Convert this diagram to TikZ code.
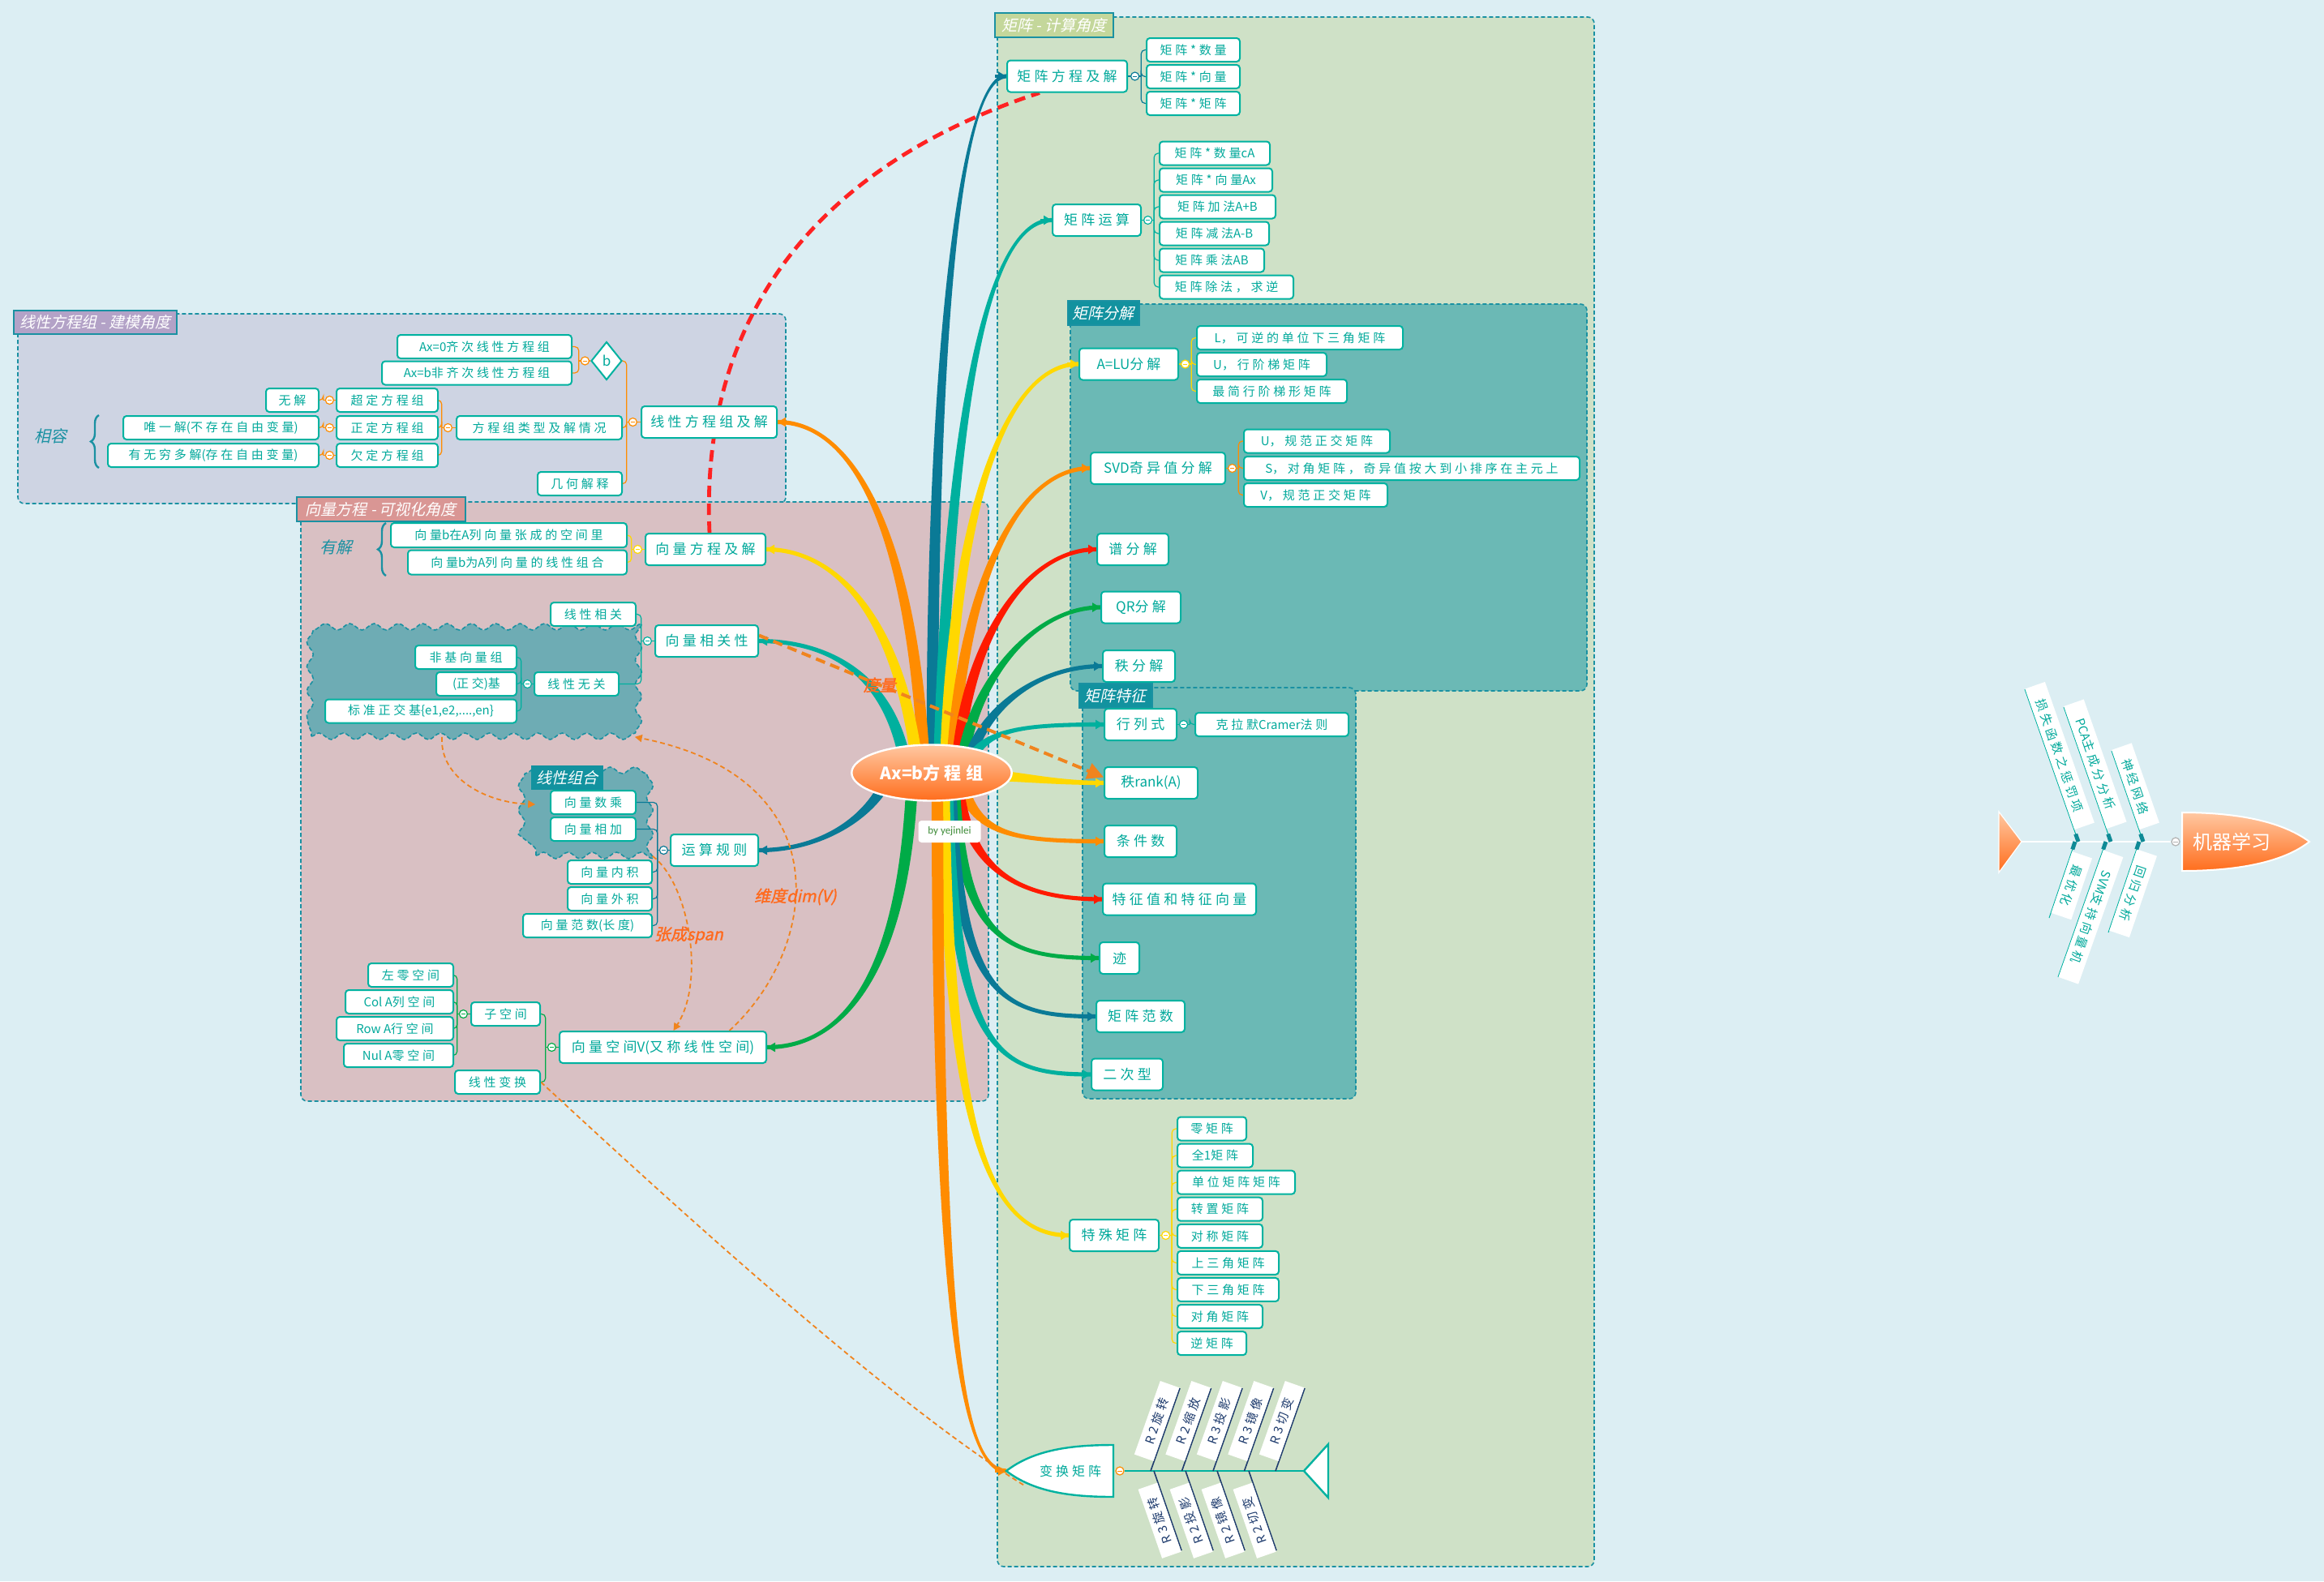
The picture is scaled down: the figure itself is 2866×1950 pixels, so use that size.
\documentclass[tikz,border=0pt]{standalone}
\usepackage{fontspec}
\setmainfont{Noto Sans CJK SC}
\newfontfamily\cjk[LetterSpace=25]{Noto Sans CJK SC}
\newfontfamily\cjkplain{Noto Sans CJK SC}
\newfontfamily\cjkit[FakeSlant=0.22]{Noto Sans CJK SC}
\newfontfamily\cjkitb[FakeSlant=0.22,FakeBold=1.5]{Noto Sans CJK SC}
\newfontfamily\cali{Carlito}
\usetikzlibrary{positioning,calc,shapes.geometric,arrows.meta,decorations.pathmorphing,decorations.pathreplacing}
\pgfdeclarelayer{bg}
\pgfdeclarelayer{links}
\pgfsetlayers{bg,links,main}

\definecolor{bgc}{HTML}{DCEEF3}
\definecolor{greenreg}{HTML}{CFE1C7}
\definecolor{tealreg}{HTML}{6BB9B5}
\definecolor{lavreg}{HTML}{CED4E3}
\definecolor{rosereg}{HTML}{D9C0C3}
\definecolor{wavereg}{HTML}{6EACB4}
\definecolor{regline}{HTML}{1A91A2}
\definecolor{boxc}{HTML}{00B2A0}
\definecolor{txtc}{HTML}{00A99B}
\definecolor{bdblue}{HTML}{0A7A96}
\definecolor{bteal}{HTML}{00B09E}
\definecolor{byellow}{HTML}{FFD800}
\definecolor{borange}{HTML}{FF8C00}
\definecolor{bred}{HTML}{FF1A00}
\definecolor{bgreen}{HTML}{00AB47}
\definecolor{rorange}{HTML}{F0841E}
\definecolor{redash}{HTML}{FF2222}
\definecolor{lblorange}{HTML}{FF6A1E}
\definecolor{labgreen}{HTML}{C4D79B}
\definecolor{labteal}{HTML}{12929F}
\definecolor{labpurple}{HTML}{B3A2C7}
\definecolor{labrose}{HTML}{D99694}
\definecolor{navy}{HTML}{1F3C6E}
\definecolor{ellTop}{HTML}{FFC8A2}
\definecolor{ellBot}{HTML}{FF6D1C}
\definecolor{byc}{HTML}{3D8B37}
\definecolor{mlmark}{HTML}{0F8A96}

\newcommand{\lat}[1]{{\cjkplain #1}}

% tapered branch: colour, start, control 1, control 2, end
\newcommand{\branch}[5]{%
  \coordinate (bA) at #2;
  \coordinate (bC) at #3;
  \coordinate (bD) at #4;
  \coordinate (bB) at #5;
  \coordinate (bA1) at ($(bA)!3.6pt!90:(bC)$);
  \coordinate (bA2) at ($(bA)!3.6pt!-90:(bC)$);
  \coordinate (bB1) at ($(bB)!1.3pt!-90:(bD)$);
  \coordinate (bB2) at ($(bB)!1.3pt!90:(bD)$);
  \fill[#1] (bA1) .. controls ($(bC)+(bA1)-(bA)$) and ($(bD)+(bB1)-(bB)$) .. (bB1)
    -- (bB2) .. controls ($(bD)+(bB2)-(bB)$) and ($(bC)+(bA2)-(bA)$) .. (bA2) -- cycle;
  \draw[#1, line width=1.6pt, -{Triangle[length=5pt,width=5.5pt]}] ($(bB)!7pt!(bD)$) -- (bB);
}
% children on the right / on the left of a topic
\newcommand{\kidsR}[4]{%
  \draw[brk=#1] (#2.east) -- (#3.west);
  \coordinate (kk) at ($(#3.east)+(1pt,0)$);
  \draw[brk=#1] (#3.east) -- (kk);
  \foreach \k in {#4} \draw[brk=#1] (kk) |- (\k.west);
}
\newcommand{\kidsL}[4]{%
  \draw[brk=#1] (#2.west) -- (#3.east);
  \coordinate (kk) at ($(#3.west)+(-1pt,0)$);
  \draw[brk=#1] (#3.west) -- (kk);
  \foreach \k in {#4} \draw[brk=#1] (kk) |- (\k.east);
}

\tikzset{
  leaf/.style={draw=boxc, fill=white, line width=1pt, rounded corners=2pt, text=txtc,
    minimum height=14.5pt, inner xsep=0pt, inner ysep=1pt, font=\cjk\fontsize{7.5}{8}\selectfont},
  topic/.style={leaf, minimum height=19.5pt, font=\cjk\fontsize{8.5}{9}\selectfont},
  choice/.style={diamond, draw=boxc, fill=white, line width=1pt, minimum width=19pt,
    minimum height=23.5pt, inner sep=0pt, text=txtc, font=\cjkplain\fontsize{8.5}{9}\selectfont},
  fold/.style={circle, draw=#1, fill=white, line width=0.6pt, minimum size=5pt, inner sep=0pt,
    path picture={\draw[#1, line width=0.5pt] ([xshift=-1.3pt]path picture bounding box.center)
      -- ([xshift=1.3pt]path picture bounding box.center);}},
  brk/.style={draw=#1, line width=0.6pt, rounded corners=2.5pt},
  region/.style={draw=regline, line width=0.8pt, dash pattern=on 2.5pt off 1.5pt, rounded corners=4pt},
  reglabel/.style={draw=regline, line width=0.9pt, text=white, anchor=north west,
    minimum height=15pt, inner sep=1pt, font=\cjkit\fontsize{9.5}{10}\selectfont},
  wavebox/.style={draw=regline, fill=wavereg, line width=0.8pt, dash pattern=on 2.5pt off 1.5pt,
    decorate, decoration={snake, amplitude=2pt, segment length=15pt}},
  rootnode/.style={ellipse, draw=white, line width=1.2pt, top color=ellTop, bottom color=ellBot,
    minimum width=92pt, minimum height=34.5pt, text=white, font=\cjk\bfseries\fontsize{10.5}{11}\selectfont},
  byline/.style={fill=white, rounded corners=2pt, minimum width=38.5pt, minimum height=13.5pt,
    text=byc, font=\cali\fontsize{6.5}{7}\selectfont, inner sep=0pt},
  reldash/.style={draw=redash, line width=2.4pt, dash pattern=on 7pt off 4pt},
  measure/.style={draw=rorange, line width=2pt, dash pattern=on 6pt off 3.5pt, -{Triangle[length=10pt,width=10pt]}},
  relthin/.style={draw=rorange, line width=0.9pt, dash pattern=on 3pt off 2pt},
  relarrow/.style={relthin, -{Triangle[length=4.5pt,width=4.5pt]}},
  rellabel/.style={text=lblorange, font=\cjkitb\fontsize{10}{11}\selectfont, inner sep=0pt},
  bracetext/.style={text=regline, font=\cjkit\fontsize{10}{11}\selectfont},
  tbone/.style={draw=navy, line width=0.8pt},
  tlabel/.style={fill=white, text=navy, minimum height=12.5pt, minimum width=48pt, inner sep=0.5pt,
    font=\cjk\fontsize{7.5}{8}\selectfont},
  mbone/.style={draw=boxc, line width=0.5pt},
  mlabel/.style={fill=white, text=txtc, minimum height=13pt, inner sep=0.5pt,
    font=\cjk\fontsize{7.5}{8}\selectfont},
}

\begin{document}
\begin{tikzpicture}[x=0.5pt, y=-0.5pt]
\useasboundingbox (0,0) rectangle (2866,1950);

\begin{pgfonlayer}{bg}
  \fill[bgc] (0,0) rectangle (2866,1950);
  % regions
  \draw[region, fill=greenreg] (1230,21) rectangle (1966,1932);
  \draw[region, fill=tealreg] (1320,375) rectangle (1957,852);
  \draw[region, fill=tealreg] (1335,848) rectangle (1672,1355);
  \draw[region, fill=lavreg] (22,387) rectangle (969,621);
  \draw[region, fill=rosereg] (371,619) rectangle (1219,1358);
  \node[wavebox, minimum width=199pt, minimum height=65.5pt] (indepG) at (583,842.5) {};
  \node[wavebox, minimum width=71.5pt, minimum height=51pt] (lcG) at (732.5,1004) {};
  % region labels
  \node[reglabel, fill=labgreen, minimum width=73pt] (gLab) at (1226,15) {矩阵 - 计算角度};
  \node[reglabel, fill=labteal, minimum width=44pt] (dLab) at (1316,370) {矩阵分解};
  \node[reglabel, fill=labteal, minimum width=45pt] (fLab) at (1330,842) {矩阵特征};
  \node[reglabel, fill=labpurple, minimum width=100.5pt, minimum height=14.5pt] (lLab) at (16,382) {线性方程组 - 建模角度};
  \node[reglabel, fill=labrose, minimum width=104pt] (rLab) at (365,612) {向量方程 - 可视化角度};
  \node[reglabel, fill=labteal, draw=none, minimum width=44.5pt] (cLab) at (654,943) {线性组合};
  % braces
  \draw[decorate, decoration={brace, amplitude=5pt}, draw=regline, line width=1.2pt] (122,577) -- (122,512);
  \draw[decorate, decoration={brace, amplitude=5pt}, draw=regline, line width=1.2pt] (476,710) -- (476,645);
  \node[bracetext] (xr) at (62,538) {相容};
  \node[bracetext] (yj) at (414,675) {有解};
\end{pgfonlayer}

% ---- matrix: calculation
\node[topic, minimum width=74pt] (mEq) at (1316,94) {矩阵方程及解};
\node[fold=bdblue, right=1.5pt of mEq] (mEqF) {};
\foreach \txt [count=\i] in {矩阵*数量, 矩阵*向量, 矩阵*矩阵}
  \node[leaf, anchor=west, minimum width=57.5pt] (mEq\i) at (1413,28.5+33*\i) {\txt};
\node[topic, minimum width=54.5pt] (mOp) at (1352.5,271.5) {矩阵运算};
\node[fold=bteal, right=1pt of mOp] (mOpF) {};
\foreach \txt/\bw [count=\i] in {矩阵*数量\lat{cA}/68, 矩阵*向量\lat{Ax}/69.5, 矩阵加法\lat{A+B}/71.5,
    矩阵减法\lat{A-B}/67.5, 矩阵乘法\lat{AB}/64.5, 矩阵除法，求逆/82.5}
  \node[leaf, anchor=west, minimum width=\bw pt] (mOp\i) at (1429,156+33*\i) {\txt};

% ---- decomposition
\node[topic, minimum width=61pt] (LU) at (1392,449) {\lat{A=LU}分解};
\node[fold=byellow, right=1pt of LU] (LUF) {};
\node[leaf, anchor=west, minimum width=127pt] (LU1) at (1475,416.5) {\lat{L}，可逆的单位下三角矩阵};
\node[leaf, anchor=west, minimum width=80pt] (LU2) at (1475,449.5) {\lat{U}，行阶梯矩阵};
\node[leaf, anchor=west, minimum width=92.5pt] (LU3) at (1475,482.5) {最简行阶梯形矩阵};
\node[topic, minimum width=83pt] (svd) at (1428,577.5) {\lat{SVD}奇异值分解};
\node[fold=borange, right=1pt of svd] (svdF) {};
\node[leaf, anchor=west, minimum width=90pt] (svd1) at (1533,544) {\lat{U}，规范正交矩阵};
\node[leaf, anchor=west, minimum width=207pt] (svd2) at (1533,577.5) {\lat{S}，对角矩阵，奇异值按大到小排序在主元上};
\node[leaf, anchor=west, minimum width=88.5pt] (svd3) at (1533,610.5) {\lat{V}，规范正交矩阵};
\node[topic, minimum width=44pt] (spd) at (1397,677.5) {谱分解};
\node[topic, minimum width=49pt] (qrd) at (1407,749) {\lat{QR}分解};
\node[topic, minimum width=44.5pt] (rkd) at (1404.5,821.5) {秩分解};

% ---- features
\node[topic, minimum width=44.5pt] (det) at (1406.5,893.5) {行列式};
\node[fold=bteal, right=1pt of det] (detF) {};
\node[leaf, anchor=west, minimum width=94.5pt] (cram) at (1473,893.5) {克拉默\lat{Cramer}法则};
\node[topic, minimum width=57.5pt] (rank) at (1419.5,965.5) {秩\lat{rank(A)}};
\node[topic, minimum width=44.5pt] (cond) at (1406.5,1037.5) {条件数};
\node[topic, minimum width=94.5pt] (eig) at (1454.5,1109) {特征值和特征向量};
\node[topic, minimum width=24.5pt] (trc) at (1380.5,1181.5) {迹};
\node[topic, minimum width=54.5pt] (nrm) at (1406.5,1253.5) {矩阵范数};
\node[topic, minimum width=44pt] (quad) at (1390,1325) {二次型};

% ---- special matrices
\node[topic, minimum width=55pt] (spm) at (1374,1523.5) {特殊矩阵};
\node[fold=byellow, right=1pt of spm] (spmF) {};
\foreach \txt/\bw [count=\i] in {零矩阵/42.5, 全\lat{1}矩阵/46.5, 单位矩阵矩阵/72.5, 转置矩阵/52.5,
    对称矩阵/52.5, 上三角矩阵/62.5, 下三角矩阵/62.5, 对角矩阵/52.5, 逆矩阵/42.5}
  \node[leaf, anchor=west, minimum width=\bw pt] (spm\i) at (1451,1358.9+33.08*\i) {\txt};

% ---- transform matrix (fish)
\coordinate (tfTip) at (1241,1814);
\coordinate (tfBot) at (1265,1833);
\coordinate (tfTail) at (1608,1814);
\draw[boxc, line width=1.2pt, fill=white] (tfTip) .. controls (1275,1788) and (1320,1782) .. (1373,1782)
  -- (1373,1846) .. controls (1320,1846) and (1275,1840) .. (tfTip) -- cycle;
\node[text=txtc, inner sep=0pt, font=\cjk\fontsize{8}{8}\selectfont] (tfm) at (1320,1814) {变换矩阵};
\node[fold=borange] (tfF) at (1381,1814) {};
\draw[boxc, line width=1.2pt] (tfF.east) -- (tfTail);
\draw[boxc, line width=1.2pt, fill=white] (tfTail) -- (1638,1781) -- (1638,1847) -- cycle;
\foreach \txt [count=\i from 0] in {R2旋转, R2缩放, R3投影, R3镜像, R3切变}
  \draw[tbone] (1419+38.5*\i,1814) -- ++(36,-102)
    node[pos=0.56, sloped, allow upside down, above=0pt, tlabel] {\txt};
\foreach \txt [count=\i from 0] in {R3旋转, R2投影, R2镜像, R2切变}
  \draw[tbone] (1457+39*\i,1912) -- (1423+39*\i,1814)
    node[pos=0.42, sloped, allow upside down, above=0pt, tlabel, minimum width=45pt] {\txt};

% ---- root
\node[rootnode] (root) at (1149,953) {\lat{Ax=b}方程组};
\node[byline] (by) at (1171,1025.5) {by yejinlei};

% ---- linear systems
\node[topic, minimum width=83.5pt] (lsys) at (874.5,520.5) {线性方程组及解};
\node[fold=borange, left=2pt of lsys] (lsysF) {};
\node[choice] (bdia) at (748,445) {b};
\node[fold=borange, left=0.5pt of bdia] (bdiaF) {};
\node[leaf, anchor=east, minimum width=107.5pt] (hom) at (706,427.5) {\lat{Ax=0}齐次线性方程组};
\node[leaf, anchor=east, minimum width=117pt] (nhom) at (706,460) {\lat{Ax=b}非齐次线性方程组};
\node[leaf, anchor=east, minimum width=102pt] (typ) at (768,527.5) {方程组类型及解情况};
\node[fold=borange, left=2pt of typ] (typF) {};
\node[leaf, anchor=east, minimum width=52pt] (geo) at (768,596.5) {几何解释};
\foreach \nm/\txt/\y in {over/超定方程组/493.5, exact/正定方程组/527.5, under/欠定方程组/561.5}{
  \node[leaf, anchor=east, minimum width=62.5pt] (\nm) at (541,\y) {\txt};
  \node[fold=borange, left=1pt of \nm] (\nm-f) {};
}
\node[leaf, anchor=east, minimum width=32.5pt] (noSol) at (394,493.5) {无解};
\node[leaf, anchor=east, minimum width=120.5pt] (uniq) at (394,527.5) {唯一解\lat{(}不存在自由变量\lat{)}};
\node[leaf, anchor=east, minimum width=130pt] (infin) at (394,561.5) {有无穷多解\lat{(}存在自由变量\lat{)}};

% ---- vector equations
\node[topic, minimum width=74pt] (vEq) at (870,677.5) {向量方程及解};
\node[fold=byellow, left=1.5pt of vEq] (vEqF) {};
\node[leaf, anchor=east, minimum width=145.5pt, minimum height=15pt] (vIn) at (774,660) {向量\lat{b}在\lat{A}列向量张成的空间里};
\node[leaf, anchor=east, minimum width=135pt, minimum height=15pt] (vCo) at (774,693.5) {向量\lat{b}为\lat{A}列向量的线性组合};
\node[topic, minimum width=63.5pt] (vRel) at (871.5,790.5) {向量相关性};
\node[fold=bteal, left=1.5pt of vRel] (vRelF) {};
\node[leaf, anchor=east, minimum width=52.5pt] (vDep) at (785,757.5) {线性相关};
\node[leaf, anchor=east, minimum width=52pt] (vInd) at (764,843.5) {线性无关};
\node[fold=bteal, left=1pt of vInd] (vIndF) {};
\node[leaf, anchor=east, minimum width=62.5pt] (nb) at (638,810.5) {非基向量组};
\node[leaf, anchor=east, minimum width=49.5pt] (ob) at (638,843.5) {\lat{(}正交\lat{)}基};
\node[leaf, anchor=east, minimum width=118pt] (onb) at (638,877) {标准正交基\lat{\{e1,e2,....,en\}}};
\node[topic, minimum width=54pt] (vOp) at (881,1048.5) {运算规则};
\node[fold=bdblue, left=1pt of vOp] (vOpF) {};
\foreach \nm/\txt/\bw/\x/\y in {vMul/向量数乘/52.5/785/989.5, vAdd/向量相加/52.5/785/1022.5,
    vDot/向量内积/52/805/1075.5, vCrs/向量外积/52/805/1108.5, vNrm/向量范数\lat{(}长度\lat{)}/79.5/805/1141.5}
  \node[leaf, anchor=east, minimum width=\bw pt] (\nm) at (\x,\y) {\txt};
\node[topic, minimum width=127.5pt] (vSp) at (817.5,1291.5) {向量空间\lat{V(}又称线性空间\lat{)}};
\node[fold=bgreen, left=1.5pt of vSp] (vSpF) {};
\node[leaf, anchor=east, minimum width=42.5pt] (sub) at (667,1250.5) {子空间};
\node[fold=bgreen, left=1.5pt of sub] (subF) {};
\node[leaf, anchor=east, minimum width=52.5pt] (lin) at (667,1334.5) {线性变换};
\foreach \nm/\txt/\bw/\y in {lnul/左零空间/52.5/1202.5, col/\lat{Col A}列空间/66.5/1235.5,
    row/\lat{Row A}行空间/72/1268.5, nul/\lat{Nul A}零空间/67.5/1301.5}
  \node[leaf, anchor=east, minimum width=\bw pt] (\nm) at (560,\y) {\txt};

% ---- machine learning (fish)
\coordinate (mlTail) at (2493,1038);
\draw[white, line width=0.6pt, top color=ellTop, bottom color=ellBot] (2465,1001) -- (mlTail) -- (2465,1076) -- cycle;
\draw[white, line width=1pt, top color=ellTop, bottom color=ellBot] (2691,1002) .. controls (2790,1002) and (2830,1025) .. (2848,1038)
  .. controls (2830,1052) and (2790,1074) .. (2691,1074) -- cycle;
\node[text=white, inner sep=0pt, font=\cjkplain\fontsize{12}{13}\selectfont] (ml) at (2752,1038) {机器学习};
\node[fold=gray!60] (mlF) at (2683,1038) {};
\draw[white, line width=0.6pt] (mlF.west) -- (mlTail);
\foreach \tx/\ty/\sx/\txt/\bw/\p in {2497/850/2563/损失函数之惩罚项/92/0.46, 2545/872/2603/\lat{PCA}主成分分析/80/0.45,
    2604/926/2643/神经网络/52/0.43}{
  \draw[mbone] (\tx,\ty) -- (\sx,1038)
    node[pos=\p, sloped, allow upside down, above=0pt, mlabel, minimum width=\bw pt] {\txt};
  \draw[mlmark, line width=2.5pt] (\sx,1038) -- ($(\sx,1038)!5pt!(\tx,\ty)$);
}
\foreach \sx/\bx/\by/\txt/\bw in {2559/2527/1132/最优化/40, 2597/2538/1205/\lat{SVM}支持向量机/83, 2638/2600/1150/回归分析/53}{
  \draw[mbone] (\sx,1038) -- (\bx,\by)
    node[pos=0.53, sloped, allow upside down, above=0pt, mlabel, minimum width=\bw pt] {\txt};
  \draw[mlmark, line width=2.5pt] (\sx,1038) -- ($(\sx,1038)!5pt!(\bx,\by)$);
}

\begin{pgfonlayer}{links}
  % branches from the root
  \branch{bdblue}{(1150,950)}{(1148,450)}{(1182,94)}{(mEq.west)}
  \branch{bteal}{(1158,950)}{(1170,520)}{(1215,271.5)}{(mOp.west)}
  \branch{byellow}{(1166,950)}{(1175,630)}{(1240,449)}{(LU.west)}
  \branch{borange}{(1174,950)}{(1185,720)}{(1255,577.5)}{(svd.west)}
  \branch{bred}{(1180,950)}{(1190,790)}{(1265,677.5)}{(spd.west)}
  \branch{bgreen}{(1186,950)}{(1194,850)}{(1270,749)}{(qrd.west)}
  \branch{bdblue}{(1192,950)}{(1205,880)}{(1275,821.5)}{(rkd.west)}
  \branch{bteal}{(1190,960)}{(1200,900)}{(1250,893.5)}{(det.west)}
  \branch{byellow}{(1190,955)}{(1250,955)}{(1290,965.5)}{(rank.west)}
  \branch{borange}{(1185,960)}{(1200,1030)}{(1250,1037.5)}{(cond.west)}
  \branch{bred}{(1180,960)}{(1190,1060)}{(1240,1109)}{(eig.west)}
  \branch{bgreen}{(1176,960)}{(1185,1160)}{(1240,1181.5)}{(trc.west)}
  \branch{bdblue}{(1172,960)}{(1180,1230)}{(1235,1253.5)}{(nrm.west)}
  \branch{bteal}{(1168,960)}{(1175,1300)}{(1230,1325)}{(quad.west)}
  \branch{byellow}{(1164,960)}{(1168,1380)}{(1215,1523.5)}{(spm.west)}
  \branch{borange}{(1156,960)}{(1156,1620)}{(1185,1814)}{(tfTip)}
  \branch{borange}{(1140,950)}{(1125,650)}{(1050,520.5)}{(lsys.east)}
  \branch{byellow}{(1132,950)}{(1110,760)}{(1030,677.5)}{(vEq.east)}
  \branch{bteal}{(1118,950)}{(1100,830)}{(1020,790.5)}{(vRel.east)}
  \branch{bdblue}{(1100,945)}{(1085,1000)}{(1020,1048.5)}{(vOp.east)}
  \branch{bgreen}{(1125,960)}{(1115,1200)}{(1040,1291.5)}{(vSp.east)}

  % brackets to children
  \kidsR{bdblue}{mEq}{mEqF}{mEq1,mEq2,mEq3}
  \kidsR{bteal}{mOp}{mOpF}{mOp1,mOp2,mOp3,mOp4,mOp5,mOp6}
  \kidsR{byellow}{LU}{LUF}{LU1,LU2,LU3}
  \kidsR{borange}{svd}{svdF}{svd1,svd2,svd3}
  \kidsR{bteal}{det}{detF}{cram}
  \kidsR{byellow}{spm}{spmF}{spm1,spm2,spm3,spm4,spm5,spm6,spm7,spm8,spm9}
  \kidsL{borange}{lsys}{lsysF}{bdia,typ,geo}
  \kidsL{borange}{bdia}{bdiaF}{hom,nhom}
  \kidsL{borange}{typ}{typF}{over,exact,under}
  \kidsL{borange}{over}{over-f}{noSol}
  \kidsL{borange}{exact}{exact-f}{uniq}
  \kidsL{borange}{under}{under-f}{infin}
  \kidsL{byellow}{vEq}{vEqF}{vIn,vCo}
  \kidsL{bteal}{vRel}{vRelF}{vDep,vInd}
  \kidsL{bteal}{vInd}{vIndF}{nb,ob,onb}
  \kidsL{bdblue}{vOp}{vOpF}{vMul,vAdd,vDot,vCrs,vNrm}
  \kidsL{bgreen}{vSp}{vSpF}{sub,lin}
  \kidsL{bgreen}{sub}{subF}{lnul,col,row,nul}

  % relations
  \draw[reldash] ([xshift=2.5pt]vEq.north) .. controls (860,330) and (1080,180) .. ([xshift=-17pt]mEq.south);
  \draw[measure] ([yshift=3.5pt]vRel.east) -- ([yshift=3.5pt]rank.west) node[pos=0.35, rellabel] {度量};
  \draw[relarrow] ([xshift=-19pt]indepG.south) .. controls (542,960) and (600,990) .. ([yshift=6pt]lcG.west);
  \draw[relarrow] (lcG.south east) .. controls (850,1090) and (870,1210) .. ([xshift=6.5pt]vSp.north)
    node[pos=0.5, rellabel] {张成span};
  \draw[relarrow] ([xshift=41pt]vSp.north) .. controls (1010,1170) and (1040,960) .. (indepG.south east)
    node[pos=0.42, rellabel] {维度dim(V)};
  \draw[relthin] (lin.east) .. controls (760,1420) and (1080,1720) .. (tfBot);
\end{pgfonlayer}
\end{tikzpicture}
\end{document}
